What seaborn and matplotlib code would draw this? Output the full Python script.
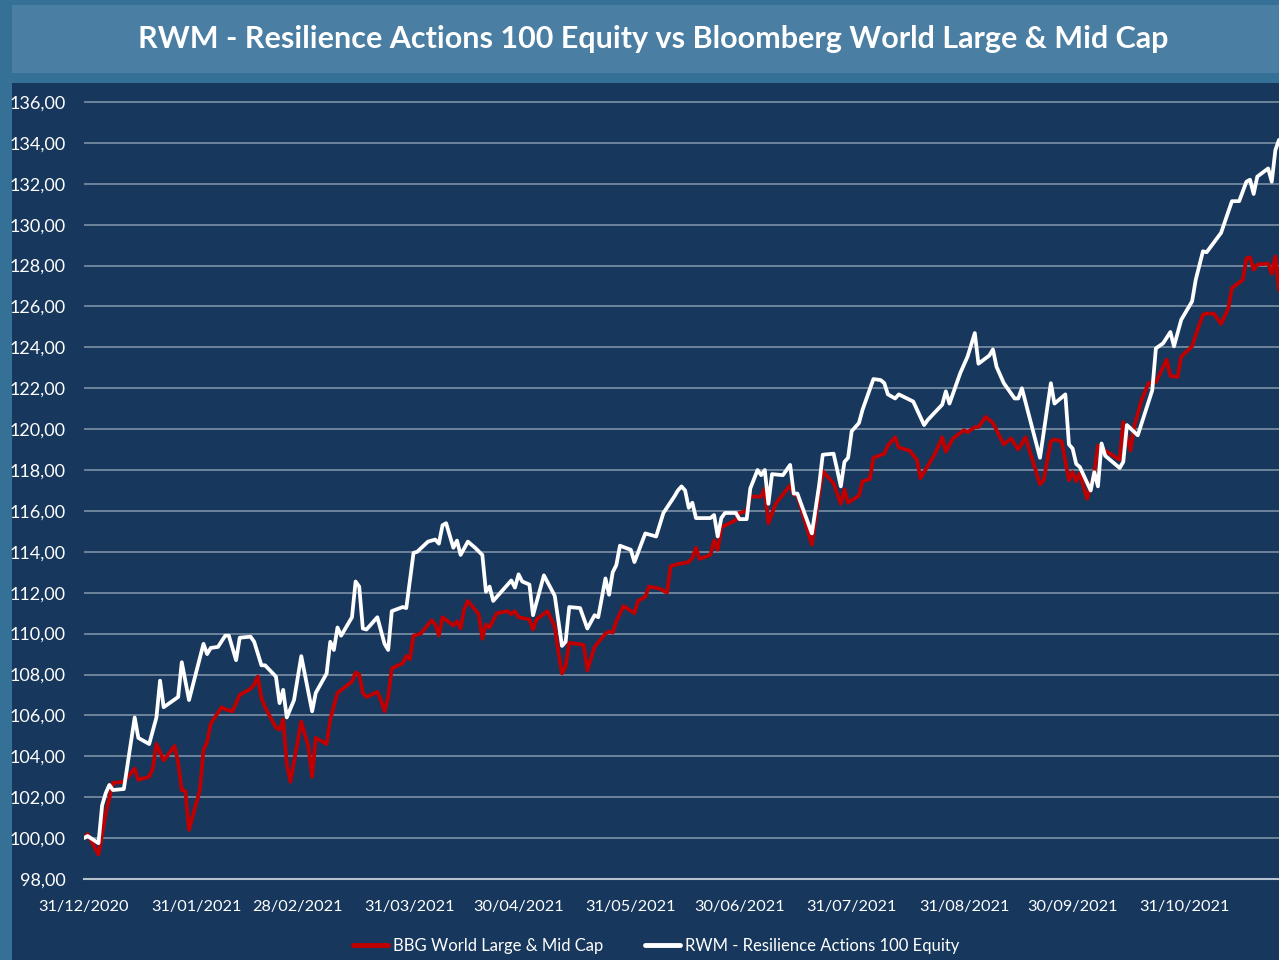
import numpy as np
import pandas as pd
import matplotlib
matplotlib.use('Agg')
import matplotlib.pyplot as plt
import matplotlib.dates as mdates
from matplotlib.patches import Rectangle
from matplotlib.ticker import FuncFormatter
import seaborn as sns

# days since 31/12/2020
rwm_days = [0, 1, 4, 5, 6, 7, 8, 11, 14, 15, 18, 20, 21, 22, 26, 27, 29, 33, 34, 35,
            37, 39, 40, 42, 43, 46, 47, 49, 50, 53, 54, 55, 56, 58, 60, 63, 64, 67, 68, 69,
            70, 71, 74, 75, 76, 77, 78, 81, 83, 84, 85, 88, 89, 91, 92, 95, 97, 98, 99, 100,
            102, 103, 104, 106, 108, 110, 111, 112, 113, 118, 119, 120, 121, 123, 124, 127, 130, 132, 133, 134,
            137, 139, 141, 142, 144, 145, 146, 147, 148, 151, 152, 155, 157, 158, 160, 163, 164, 165, 166, 167,
            168, 169, 173, 174, 175, 176, 177, 180, 181, 183, 184, 186, 187, 188, 189, 190, 193, 195, 196, 197,
            201, 203, 204, 207, 209, 210, 211, 212, 214, 215, 218, 220, 221, 222, 224, 225, 229, 232, 233, 237,
            238, 239, 242, 244, 246, 247, 250, 251, 252, 254, 257, 258, 259, 262, 264, 267, 268, 271, 272, 273,
            274, 275, 278, 279, 280, 281, 282, 286, 287, 288, 291, 295, 296, 298, 300, 301, 303, 306, 307, 309,
            310, 314, 317, 319, 321, 322, 323, 324, 327, 328, 329, 330]
rwm_values = [100.0, 100.1, 99.75, 101.6, 102.2, 102.6, 102.35, 102.4, 105.9, 104.9, 104.6, 105.9, 107.7, 106.4, 106.9, 108.6, 106.75, 109.5, 109.0, 109.3,
              109.35, 109.9, 109.9, 108.7, 109.8, 109.85, 109.6, 108.45, 108.45, 107.9, 106.6, 107.25, 105.9, 106.75, 108.9, 106.2, 107.1, 108.05, 109.6, 109.2,
              110.3, 109.9, 110.8, 112.55, 112.3, 110.25, 110.2, 110.8, 109.5, 109.2, 111.1, 111.3, 111.25, 113.95, 114.0, 114.5, 114.6, 114.4, 115.3, 115.4,
              114.2, 114.55, 113.85, 114.5, 114.2, 113.85, 112.05, 112.3, 111.6, 112.6, 112.25, 112.9, 112.55, 112.4, 110.9, 112.85, 111.85, 109.4, 109.6, 111.3,
              111.25, 110.25, 110.9, 110.8, 112.7, 111.9, 113.0, 113.35, 114.3, 114.1, 113.5, 114.9, 114.8, 114.75, 115.9, 116.7, 117.0, 117.2, 117.0, 116.15,
              116.4, 115.65, 115.65, 115.8, 114.75, 115.65, 115.9, 115.9, 115.6, 115.6, 117.1, 118.0, 117.75, 118.0, 116.35, 117.8, 117.75, 118.25, 116.85, 116.85,
              114.9, 117.25, 118.75, 118.8, 117.2, 118.4, 118.6, 119.9, 120.3, 120.95, 122.45, 122.4, 122.25, 121.7, 121.5, 121.7, 121.35, 120.2, 120.45, 121.2,
              121.85, 121.25, 122.75, 123.55, 124.7, 123.2, 123.6, 123.9, 123.05, 122.25, 121.5, 121.5, 122.0, 119.95, 118.6, 122.25, 121.25, 121.7, 119.25, 119.05,
              118.3, 118.15, 117.0, 117.9, 117.2, 119.3, 118.7, 118.1, 118.4, 120.2, 119.7, 121.9, 123.95, 124.2, 124.75, 124.05, 125.35, 126.25, 127.3, 128.7,
              128.65, 129.6, 131.15, 131.15, 132.1, 132.2, 131.5, 132.35, 132.75, 132.1, 133.65, 134.15]

bbg_days = [0, 1, 4, 6, 8, 11, 14, 15, 18, 19, 20, 22, 25, 26, 27, 28, 29, 31, 32, 33,
            34, 35, 38, 39, 41, 43, 46, 47, 48, 49, 50, 53, 54, 55, 56, 57, 60, 62, 63, 64,
            67, 68, 70, 74, 75, 76, 77, 78, 81, 82, 83, 84, 85, 88, 89, 90, 91, 93, 96, 97,
            98, 99, 102, 103, 104, 105, 106, 109, 110, 111, 112, 114, 117, 118, 119, 120, 123, 124, 125, 128,
            130, 131, 132, 133, 134, 138, 139, 141, 144, 145, 146, 147, 149, 152, 153, 155, 156, 159, 161, 162,
            164, 167, 168, 169, 170, 173, 174, 175, 176, 180, 181, 183, 184, 187, 188, 189, 191, 195, 196, 197,
            201, 203, 204, 207, 209, 210, 211, 214, 215, 217, 218, 221, 222, 224, 225, 228, 230, 231, 233, 235,
            237, 238, 240, 243, 244, 246, 247, 249, 251, 254, 256, 258, 260, 264, 265, 267, 268, 270, 272, 273,
            274, 275, 277, 279, 280, 282, 286, 287, 289, 290, 292, 294, 296, 299, 300, 302, 303, 306, 307, 309,
            310, 312, 314, 316, 317, 320, 321, 322, 323, 324, 327, 328, 329, 330]
bbg_values = [100.0, 100.2, 99.2, 101.2, 102.7, 102.75, 103.4, 102.85, 103.0, 103.4, 104.6, 103.8, 104.5, 103.7, 102.35, 102.3, 100.4, 101.7, 102.35, 104.3,
              104.7, 105.6, 106.4, 106.3, 106.2, 107.0, 107.3, 107.5, 107.9, 106.85, 106.4, 105.4, 105.3, 105.8, 103.65, 102.75, 105.7, 104.45, 103.0, 104.9,
              104.6, 105.8, 107.1, 107.65, 108.1, 108.0, 107.1, 106.9, 107.15, 106.75, 106.2, 106.9, 108.3, 108.55, 108.9, 108.75, 109.9, 110.0, 110.65, 110.45,
              109.9, 110.8, 110.4, 110.6, 110.25, 111.2, 111.6, 110.95, 109.75, 110.45, 110.3, 111.0, 111.1, 110.95, 111.1, 110.8, 110.7, 110.2, 110.7, 111.1,
              110.35, 109.1, 108.05, 108.4, 109.55, 109.45, 108.2, 109.35, 110.0, 110.1, 110.05, 110.6, 111.35, 111.0, 111.6, 111.8, 112.3, 112.2, 112.0, 113.3,
              113.4, 113.5, 113.7, 114.2, 113.65, 113.85, 114.55, 114.1, 115.2, 115.55, 115.9, 116.0, 116.7, 116.7, 117.1, 115.4, 116.35, 117.25, 116.8, 116.75,
              114.35, 116.8, 117.95, 117.35, 116.35, 117.05, 116.4, 116.75, 117.45, 117.55, 118.6, 118.8, 119.2, 119.6, 119.1, 118.95, 118.5, 117.6, 118.2, 118.8,
              119.6, 118.9, 119.55, 119.95, 119.85, 120.1, 120.1, 120.6, 120.3, 119.25, 119.55, 119.0, 119.6, 117.3, 117.5, 119.4, 119.5, 119.4, 117.5, 117.9,
              117.45, 117.85, 116.6, 117.85, 119.2, 118.95, 118.5, 120.35, 118.95, 120.1, 121.4, 122.25, 122.3, 123.4, 122.6, 122.55, 123.55, 124.05, 124.6, 125.6,
              125.65, 125.65, 125.15, 125.9, 126.9, 127.3, 128.35, 128.4, 127.8, 128.05, 128.1, 127.6, 128.45, 126.8]

rwm_label = 'RWM - Resilience Actions 100 Equity'
bbg_label = 'BBG World Large & Mid Cap'
title = 'RWM - Resilience Actions 100 Equity vs Bloomberg World Large & Mid Cap'
start = pd.Timestamp('2020-12-31')
tick_dates = ['2020-12-31', '2021-01-31', '2021-02-28', '2021-03-31', '2021-04-30', '2021-05-31',
              '2021-06-30', '2021-07-31', '2021-08-31', '2021-09-30', '2021-10-31']

navy = '#17375c'
border = '#357196'
title_bg = '#4a7ea3'

df = pd.concat([
    pd.DataFrame({'date': start + pd.to_timedelta(bbg_days, unit='D'), 'value': bbg_values, 'serie': bbg_label}),
    pd.DataFrame({'date': start + pd.to_timedelta(rwm_days, unit='D'), 'value': rwm_values, 'serie': rwm_label}),
])

sns.set_style('white')
plt.rcParams['font.family'] = ['Lato', 'DejaVu Sans']

fig = plt.figure(figsize=(12.79, 9.6), dpi=100, facecolor=border)
fig.patches.append(Rectangle((12 / 1279, 0), 1, 877 / 960, transform=fig.transFigure,
                             facecolor=navy, edgecolor='none', zorder=-5))
fig.patches.append(Rectangle((12 / 1279, 887 / 960), 1, 68 / 960, transform=fig.transFigure,
                             facecolor=title_bg, edgecolor='none', zorder=-5))
fig.text(0.5106, 0.959, title, color='white', fontsize=22, fontweight='bold',
         ha='center', va='center')

ax = fig.add_axes([84 / 1279, 0.0844, 1 - 84 / 1279, 0.9044 - 0.0844])
ax.patch.set_alpha(0)

sns.lineplot(data=df, x='date', y='value', hue='serie', estimator=None, sort=True,
             palette={bbg_label: '#c00000', rwm_label: '#ffffff'},
             hue_order=[bbg_label, rwm_label], linewidth=2.7, ax=ax, legend=False)

ax.set_xlim(start, start + pd.Timedelta(days=330))
ax.set_ylim(98, 136.5)
ax.set_yticks(np.arange(98, 137, 2))
ax.yaxis.set_major_formatter(FuncFormatter(lambda v, p: f'{v:.2f}'.replace('.', ',')))
ax.set_xticks(pd.to_datetime(tick_dates))
ax.xaxis.set_major_formatter(mdates.DateFormatter('%d/%m/%Y'))
ax.set_xlabel('')
ax.set_ylabel('')

for v in np.arange(100, 137, 2):
    ax.axhline(v, color='#7d91a6', linewidth=1.2, zorder=0)

for s in ['top', 'right', 'left']:
    ax.spines[s].set_visible(False)
ax.spines['bottom'].set_color('#b7c2cf')
ax.spines['bottom'].set_linewidth(1.5)
ax.tick_params(axis='x', colors='white', labelsize=11.7, length=6, width=1.5,
               direction='out', pad=9, color='#b7c2cf')
ax.tick_params(axis='y', colors='white', labelsize=13, length=0, pad=13)

handles = [plt.Line2D([], [], color='#c00000', linewidth=3.5),
           plt.Line2D([], [], color='white', linewidth=3.5)]
fig.legend(handles, [bbg_label, rwm_label], loc='center', bbox_to_anchor=(0.513, 0.0146),
           ncol=2, frameon=False, fontsize=12, labelcolor='white', handlelength=2.1,
           handletextpad=0.3, columnspacing=2.5)

fig.savefig('out.png', dpi=100, facecolor=fig.get_facecolor())
